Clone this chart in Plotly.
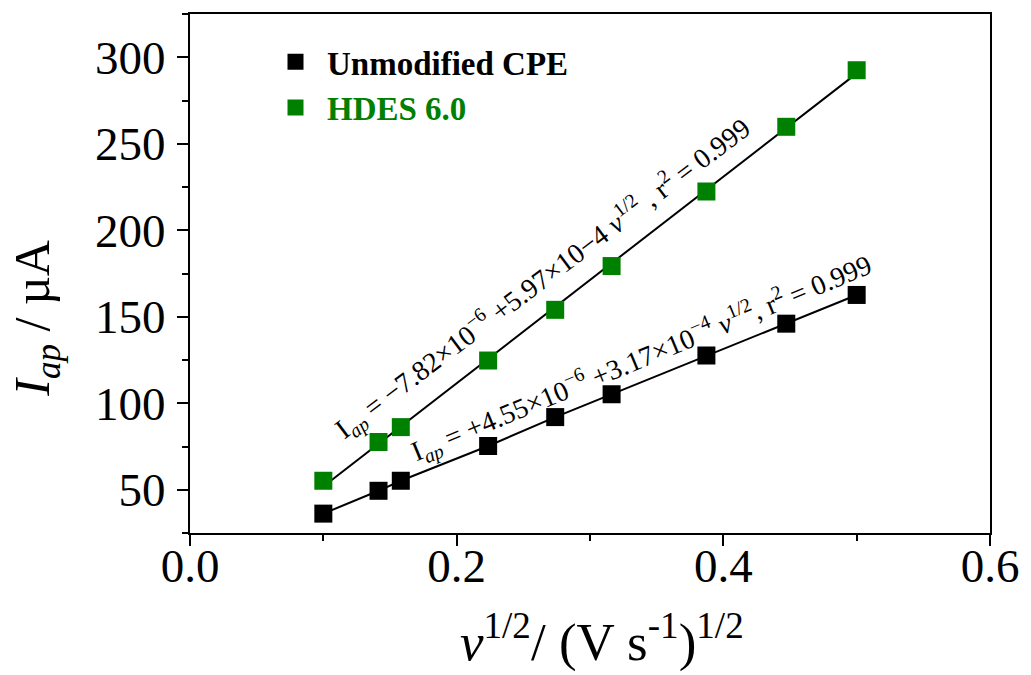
import plotly.graph_objects as go

# data
x_vals = [0.1, 0.1414, 0.1581, 0.2236, 0.2739, 0.3162, 0.3873, 0.4472, 0.5]
y_unmod = [36.2, 49.4, 55.2, 75.3, 92.0, 105.2, 127.6, 146.0, 162.6]
y_hdes = [55.2, 77.6, 86.2, 124.7, 154.0, 179.3, 222.4, 259.8, 292.5]
hdes_fit = [-7.82, 597.0]  # intercept, slope (µA)
fit_x = [0.1, 0.5]
x_ticks = [0.0, 0.2, 0.4, 0.6]
x_ticktext = ["0.0", "0.2", "0.4", "0.6"]
y_ticks = [50, 100, 150, 200, 250, 300]

GREEN = "#008000"
FONT = "Liberation Serif"

fig = go.Figure()
fig.add_trace(go.Scatter(x=x_vals, y=y_unmod, mode="lines",
                         line=dict(color="black", width=2), showlegend=False))
fig.add_trace(go.Scatter(x=fit_x, y=[hdes_fit[0] + hdes_fit[1] * v for v in fit_x],
                         mode="lines", line=dict(color="black", width=2), showlegend=False))
fig.add_trace(go.Scatter(x=x_vals, y=y_unmod, mode="markers", name="<b>Unmodified CPE</b>",
                         marker=dict(symbol="square", size=18, color="black")))
fig.add_trace(go.Scatter(x=x_vals, y=y_hdes, mode="markers",
                         name=f"<b><span style='color:{GREEN}'>HDES 6.0</span></b>",
                         marker=dict(symbol="square", size=18, color=GREEN)))

fig.add_annotation(x=0.2645, y=172.4, xref="x", yref="y", showarrow=False, textangle=-37,
                   xanchor="center", yanchor="middle",
                   text="I<sub><i>ap</i></sub> = −7.82×10<sup>−6</sup> +5.97×10−4 <i>v</i><sup>1/2</sup> , r<sup>2</sup> = 0.999",
                   font=dict(family=FONT, size=28, color="black"))
fig.add_annotation(x=0.3383, y=125.9, xref="x", yref="y", showarrow=False, textangle=-22.5,
                   xanchor="center", yanchor="middle",
                   text="I<sub><i>ap</i></sub> = +4.55×10<sup>−6</sup> +3.17×10<sup>−4</sup> <i>v</i><sup>1/2</sup>, r<sup>2</sup> = 0.999",
                   font=dict(family=FONT, size=28, color="black"))

# axis titles
fig.add_annotation(x=-0.1925, y=0.413, xref="paper", yref="paper", showarrow=False, textangle=-90,
                   xanchor="center", yanchor="middle",
                   text="<i>I<sub>ap</sub></i> / µA",
                   font=dict(family=FONT, size=50, color="black"))
fig.add_annotation(x=0.5155, y=-0.203, xref="paper", yref="paper", showarrow=False,
                   xanchor="center", yanchor="middle",
                   text="<i>v</i><sup>1/2</sup>/ (V s<sup>-1</sup>)<sup>1/2</sup>",
                   font=dict(family=FONT, size=53, color="black"))

axis_common = dict(showline=True, linecolor="black", linewidth=2, mirror=True,
                   ticks="outside", tickwidth=2, ticklen=11, tickcolor="black",
                   showgrid=False, zeroline=False,
                   tickfont=dict(family=FONT, size=47, color="black"))
fig.update_xaxes(range=[0, 0.6], tickvals=x_ticks, ticktext=x_ticktext, ticklabelstandoff=-20,
                 minor=dict(dtick=0.1, ticks="outside", ticklen=6, tickwidth=2, tickcolor="black"),
                 **axis_common)
fig.update_yaxes(range=[25, 325], tickvals=y_ticks, ticklabelstandoff=2,
                 minor=dict(tickvals=[25, 75, 125, 175, 225, 275, 325], ticks="outside", ticklen=6,
                            tickwidth=2, tickcolor="black"),
                 **axis_common)

fig.update_layout(width=1031, height=675, plot_bgcolor="white", paper_bgcolor="white",
                  margin=dict(l=190, r=36, t=12, b=142),
                  legend=dict(x=0.0925, y=0.962, xanchor="left", yanchor="top", itemwidth=53,
                              font=dict(family=FONT, size=33, color="black"),
                              bgcolor="rgba(0,0,0,0)", tracegroupgap=0))

fig.write_html("out.html")
